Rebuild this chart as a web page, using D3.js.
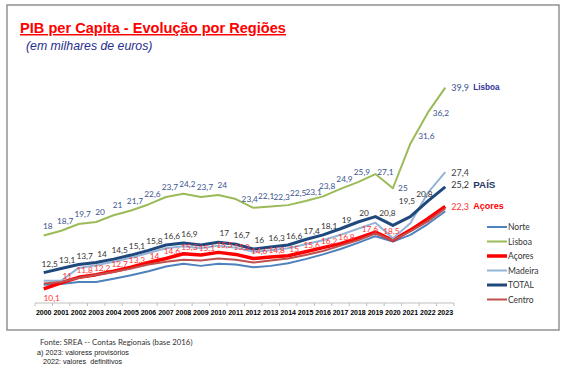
<!DOCTYPE html>
<html>
<head>
<meta charset="utf-8">
<script src="https://cdn.jsdelivr.net/npm/d3@7/dist/d3.min.js"></script>
<style>
  body { margin: 0; background: #fff; }
  svg { display: block; }
</style>
</head>
<body>
<svg id="chart" width="568" height="373"></svg>
<script>
// dados (milhares de euros)
var years   = [2000, 2001, 2002, 2003, 2004, 2005, 2006, 2007, 2008, 2009, 2010, 2011,
               2012, 2013, 2014, 2015, 2016, 2017, 2018, 2019, 2020, 2021, 2022, 2023];
var norte   = [10.7, 10.8, 11.1, 11.1, 11.6, 12.1, 12.7, 13.4, 13.8, 13.5, 13.8, 13.7,
               13.3, 13.5, 13.9, 14.5, 15.2, 16.0, 16.9, 17.9, 17.1, 18.1, 19.7, 21.6];
var lisboa  = [18, 18.7, 19.7, 20, 21, 21.7, 22.6, 23.7, 24.2, 23.7, 24, 23.4,
               22.1, 22.3, 22.5, 23.1, 23.8, 24.9, 25.9, 27.1, 25, 31.6, 36.2, 39.9];
var acores  = [10.1, 11, 11.8, 12.2, 12.7, 13.3, 14, 14.6, 15.3, 15.1, 15.5, 15.2,
               14.6, 14.8, 15, 15.6, 16.2, 16.8, 17.6, 18.5, 17.3, 18.8, 20.5, 22.3];
var madeira = [11.3, 11.3, 13.2, 13.6, 14.1, 14.7, 15.4, 16.1, 16.4, 16.1, 16.5, 16.2,
               15.6, 15.8, 16.1, 16.7, 17.3, 18.1, 19.0, 19.9, 17.6, 19.8, 24.3, 27.4];
var total   = [12.5, 13.1, 13.7, 14.0, 14.5, 15.1, 15.8, 16.6, 16.9, 16.6, 17.0, 16.7,
               16.0, 16.3, 16.6, 17.4, 18.1, 19.0, 20.0, 20.8, 19.5, 20.8, 23.1, 25.2];
var centro  = [10.9, 11.1, 11.7, 12.2, 12.6, 13.1, 13.7, 14.1, 14.4, 14.3, 14.6, 14.4,
               14.0, 14.3, 14.6, 15.1, 15.7, 16.5, 17.3, 18.3, 17.3, 18.6, 20.1, 22.0];

var seriesNames = ["Norte", "Lisboa", "Açores", "Madeira", "TOTAL", "Centro"];
var seriesData  = [norte, lisboa, acores, madeira, total, centro];
var colors      = ["#4F81BD", "#9BBB59", "#FF0000", "#95B3D7", "#1F497D", "#C0504D"];
var widths      = [2, 2, 3.5, 2, 3, 2];

var svg = d3.select("#chart");

var x = d3.scaleBand().domain(years).range([35, 454]);
var y = d3.scaleLinear().domain([8, 44]).range([303, 60]);
var px = function(yr) { return x(yr) + x.bandwidth() / 2; };

var fmt = function(v) { return String(v).replace(".", ","); };

// moldura
svg.append("rect").attr("x", 7).attr("y", 5).attr("width", 552).attr("height", 325)
  .attr("fill", "#fff").attr("stroke", "#8a8a8a").attr("stroke-width", 1.4);

// título
svg.append("text").attr("x", 20).attr("y", 33)
  .attr("font-family", "Liberation Sans, Arial, sans-serif").attr("font-size", 14.6)
  .attr("font-weight", "bold").attr("fill", "#FF0000")
  .attr("text-decoration", "underline")
  .text("PIB per Capita - Evolução por Regiões");
svg.append("text").attr("x", 26).attr("y", 50)
  .attr("font-family", "Liberation Sans, Arial, sans-serif").attr("font-size", 12.3)
  .attr("font-style", "italic").attr("fill", "#262E8C")
  .text("(em milhares de euros)");

// eixo x
var axis = svg.append("g").attr("transform", "translate(0,303)");
axis.append("line").attr("x1", 35).attr("x2", 454).attr("stroke", "#bfbfbf");
axis.selectAll(".tk").data(years.concat(["end"])).enter().append("line")
  .attr("class", "tk")
  .attr("x1", function(d) { return d === "end" ? 454 : x(d); })
  .attr("x2", function(d) { return d === "end" ? 454 : x(d); })
  .attr("y1", 0).attr("y2", 3).attr("stroke", "#bfbfbf");
axis.selectAll(".yl").data(years).enter().append("text")
  .attr("class", "yl")
  .attr("x", px).attr("y", 12)
  .attr("text-anchor", "middle")
  .attr("font-family", "Liberation Sans, Arial, sans-serif")
  .attr("font-size", 7).attr("font-weight", "bold").attr("fill", "#000")
  .text(function(d) { return d; });

// linhas
var line = d3.line()
  .x(function(d, i) { return px(years[i]); })
  .y(function(d) { return y(d); });

seriesNames.forEach(function(name, k) {
  svg.append("path").datum(seriesData[k])
    .attr("class", "serie")
    .attr("d", line)
    .attr("fill", "none")
    .attr("stroke", colors[k])
    .attr("stroke-width", widths[k])
    .attr("stroke-linejoin", "round");
});

// rótulos de dados
var labelCfg = {
  "Lisboa": { color: "#3A5390", dx: 4,  dy: -10, skip: [] },
  "TOTAL":  { color: "#333333", dx: 6,  dy: -9,  skip: [2009, 2022] },
  "Açores": { color: "#FF3333", dx: 6,  dy: -7,  skip: [2020, 2021, 2022] },
  "Madeira":{ color: "#404040", dx: 0,  dy: 0,   only: [2023] }
};
// ajustes manuais (como no gráfico original)
var nudge = {
  "Lisboa-2011": [14, 0], "Lisboa-2012": [13, -12], "Lisboa-2013": [11, -9], "Lisboa-2014": [10, -12],
  "Lisboa-2015": [8, -9],
  "Lisboa-2019": [10, -2], "Lisboa-2020": [10, 0], "Lisboa-2021": [16, -8], "Lisboa-2022": [13, 0],
  "TOTAL-2019": [12, -4], "TOTAL-2020": [14, -24], "TOTAL-2021": [14, -23],
  "Açores-2000": [8, 9], "Açores-2018": [12, -9], "Açores-2019": [16, -1]
};

seriesNames.forEach(function(name, k) {
  var cfg = labelCfg[name];
  if (!cfg) return;
  var pts = seriesData[k].map(function(v, i) { return { year: years[i], v: v }; })
    .filter(function(p) {
      if (cfg.only) return cfg.only.indexOf(p.year) >= 0;
      return cfg.skip.indexOf(p.year) < 0;
    })
    .filter(function(p) { return p.year !== 2023; });
  svg.selectAll(".lb-" + k).data(pts).enter().append("text")
    .attr("class", "lb-" + k)
    .attr("x", function(p) { var n = nudge[name + "-" + p.year]; return px(p.year) + (n ? n[0] : cfg.dx); })
    .attr("y", function(p) { var n = nudge[name + "-" + p.year]; return y(p.v) + (n ? n[1] : cfg.dy); })
    .attr("dominant-baseline", "central")
    .attr("text-anchor", "middle")
    .attr("font-family", "Lato, sans-serif").attr("font-size", 8.3)
    .attr("fill", cfg.color)
    .text(function(p) { return fmt(p.v); });
});

// rótulos finais (2023)
var endTags = [
  { name: "Lisboa",  tag: "Lisboa", tagColor: "#333399", numColor: "#3A5390", size: 8.2 },
  { name: "Madeira", tag: "",       tagColor: "#404040", numColor: "#404040", size: 9 },
  { name: "TOTAL",   tag: "PAÍS",   tagColor: "#1F3864", numColor: "#333333", size: 9.8 },
  { name: "Açores",  tag: "Açores", tagColor: "#FF0000", numColor: "#FF3333", size: 9 }
];
endTags.forEach(function(t) {
  var k = seriesNames.indexOf(t.name);
  var v = seriesData[k][years.length - 1];
  var yy = y(v) + (t.name === "TOTAL" ? -2 : 0);
  svg.append("text").attr("x", px(2023) + 6).attr("y", yy)
    .attr("dominant-baseline", "central")
    .attr("font-family", "Lato, sans-serif").attr("font-size", 9)
    .attr("fill", t.numColor).text(fmt(v));
  if (t.tag) {
    svg.append("text").attr("x", px(2023) + 28).attr("y", yy)
      .attr("dominant-baseline", "central")
      .attr("font-family", "Liberation Sans, Arial, sans-serif").attr("font-size", t.size)
      .attr("font-weight", "bold").attr("fill", t.tagColor).text(t.tag);
  }
});

// legenda
var legend = svg.append("g").attr("transform", "translate(487,227)");
var items = legend.selectAll("g").data(seriesNames).enter().append("g")
  .attr("transform", function(d, i) { return "translate(0," + (i * 14.5) + ")"; });
items.append("line").attr("x1", 0).attr("x2", 20)
  .attr("stroke", function(d, i) { return colors[i]; })
  .attr("stroke-width", function(d, i) { return widths[i]; });
items.append("text").attr("x", 21).attr("y", 0)
  .attr("dominant-baseline", "central")
  .attr("font-family", "Lato, sans-serif").attr("font-size", 8.5).attr("fill", "#333")
  .text(function(d) { return d; });

// fonte
svg.append("text").attr("x", 40).attr("y", 345)
  .attr("font-family", "Lato, sans-serif").attr("font-size", 7.8).attr("fill", "#333")
  .text("Fonte: SREA -- Contas Regionais (base 2016)");
svg.append("text").attr("x", 37).attr("y", 354.5)
  .attr("font-family", "Liberation Sans, Arial, sans-serif").attr("font-size", 7.2).attr("fill", "#222")
  .text("a) 2023: valoress provisórios");
svg.append("text").attr("x", 43).attr("y", 363.5)
  .attr("font-family", "Liberation Sans, Arial, sans-serif").attr("font-size", 7.2).attr("fill", "#222")
  .attr("xml:space", "preserve")
  .text("2022: valores  definitivos");
</script>
</body>
</html>
